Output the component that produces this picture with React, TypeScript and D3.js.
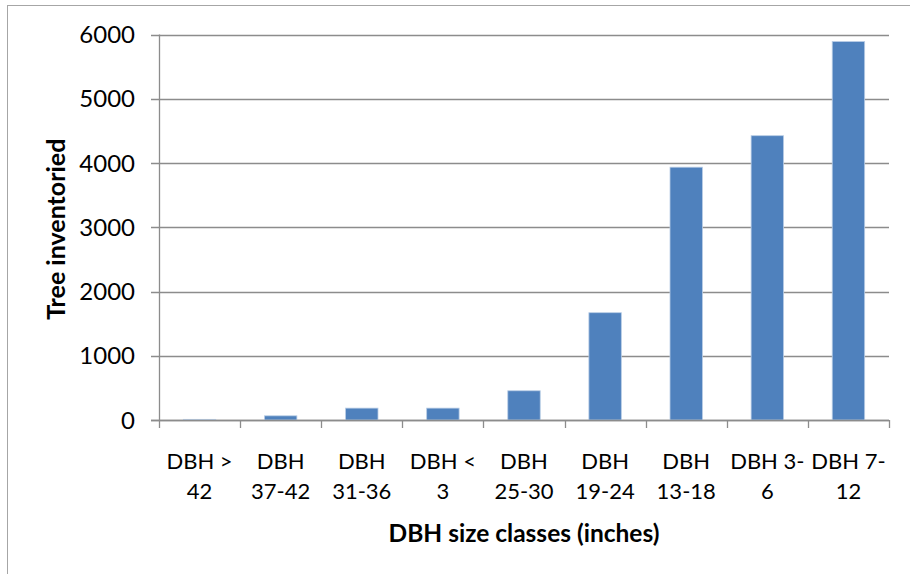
import React from "react";
import * as d3 from "d3";

const categories = [
  ["DBH >", "42"],
  ["DBH", "37-42"],
  ["DBH", "31-36"],
  ["DBH <", "3"],
  ["DBH", "25-30"],
  ["DBH", "19-24"],
  ["DBH", "13-18"],
  ["DBH 3-", "6"],
  ["DBH 7-", "12"],
];
const values = [10, 65, 185, 185, 455, 1670, 3935, 4425, 5890];
const yTicks = [0, 1000, 2000, 3000, 4000, 5000, 6000];
const yTitle = "Tree inventoried";
const xTitle = "DBH size classes (inches)";

export default function App() {
  const W = 910, H = 574;
  const left = 159, right = 889, top = 34.5, bottom = 420;
  const x = d3.scaleBand<number>().domain(d3.range(categories.length)).range([left, right]).paddingInner(0.6).paddingOuter(0.3);
  const xb = d3.scaleBand<number>().domain(d3.range(categories.length)).range([left, right]);
  const y = d3.scaleLinear().domain([0, 6000]).range([bottom, top]);
  const font = "Lato, 'Open Sans', sans-serif";
  const grey = "#8c8c8c";
  return (
    <svg width={W} height={H} style={{ position: "absolute", left: 0, top: 0, background: "#fff" }}>
      <rect x={7.5} y={5.5} width={W + 10} height={H + 10} fill="#fff" stroke="#a6a6a6" />
      {yTicks.map((t) => (
        <line key={"g" + t} x1={151} x2={right} y1={Math.round(y(t)) + 0.5} y2={Math.round(y(t)) + 0.5} stroke={grey} strokeWidth={1.3} />
      ))}
      {values.map((v, i) => (
        <rect key={"b" + i} x={x(i)} y={y(v)} width={x.bandwidth()} height={bottom - y(v)} fill="#4f81bd" stroke="#b9cde5" strokeWidth={0.8} />
      ))}
      <line x1={left + 0.5} x2={left + 0.5} y1={top} y2={bottom} stroke={grey} strokeWidth={1.3} />
      <line x1={151} x2={right} y1={bottom + 0.5} y2={bottom + 0.5} stroke={grey} strokeWidth={1.3} />
      {d3.range(categories.length + 1).map((i) => {
        const xx = Math.round(left + i * xb.step()) + 0.5;
        return <line key={"t" + i} x1={xx} x2={xx} y1={bottom} y2={bottom + 8} stroke={grey} strokeWidth={1.3} />;
      })}
      {yTicks.map((t) => (
        <text key={"l" + t} x={135} y={y(t)} dy="0.36em" textAnchor="end" fontFamily={font} fontSize={24} fill="#000">
          {t}
        </text>
      ))}
      {categories.map((c, i) => (
        <text key={"c" + i} x={(xb(i) as number) + xb.bandwidth() / 2} textAnchor="middle" fontFamily={font} fontSize={22} fill="#000">
          <tspan x={(xb(i) as number) + xb.bandwidth() / 2} y={469}>{c[0]}</tspan>
          <tspan x={(xb(i) as number) + xb.bandwidth() / 2} y={499}>{c[1]}</tspan>
        </text>
      ))}
      <text x={(left + right) / 2} y={542} textAnchor="middle" fontFamily={font} fontSize={24.5} fontWeight="bold" fill="#000">
        {xTitle}
      </text>
      <text transform={`translate(65,${(top + bottom) / 2 + 2}) rotate(-90)`} textAnchor="middle" fontFamily={font} fontSize={25} fontWeight="bold" fill="#000">
        {yTitle}
      </text>
    </svg>
  );
}
